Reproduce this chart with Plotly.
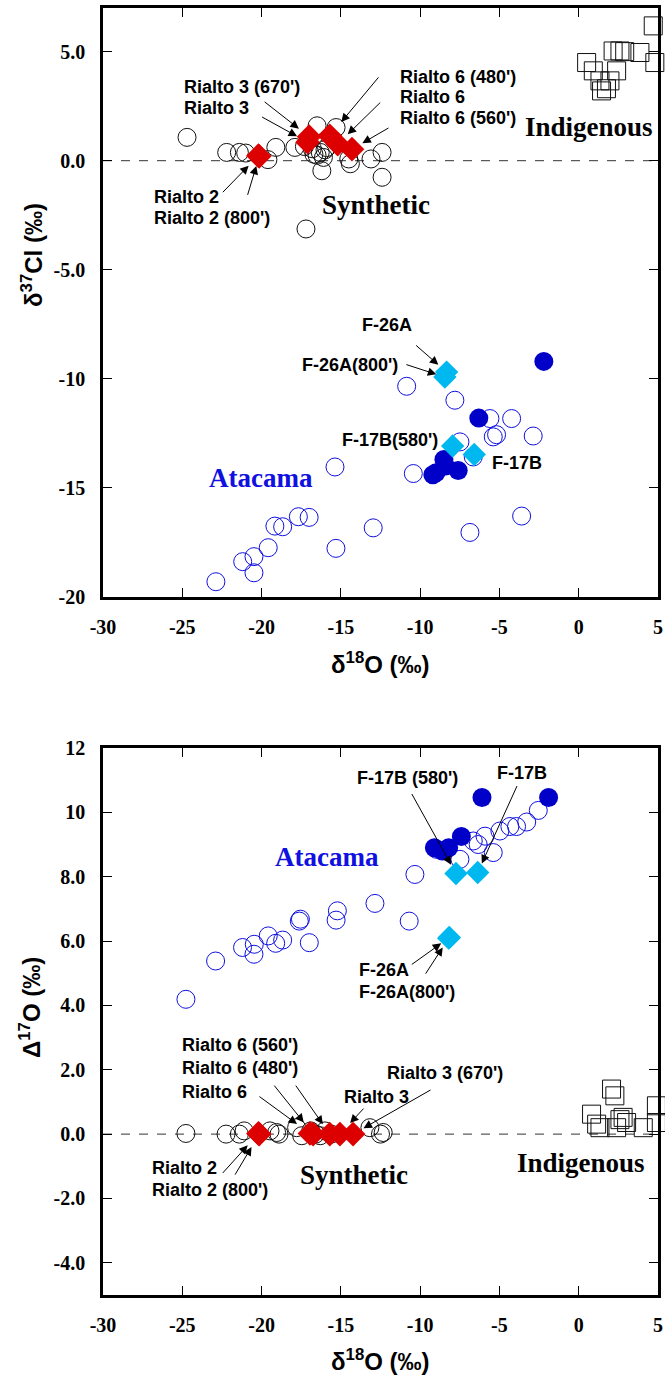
import plotly.graph_objects as go

# ---------------- DATA ----------------
# Top panel: d18O vs d37Cl
syn_top_x = [-24.7, -22.2, -21.4, -21.0, -19.1, -19.6, -17.9, -17.3, -16.5, -16.8, -16.3, -16.5,
             -16.0, -16.2, -15.3, -14.5, -13.1, -12.4, -12.4, -17.2, -16.7, -16.1, -15.9, -14.4]
syn_top_y = [1.07, 0.38, 0.38, 0.35, 0.61, 0.05, 0.61, 0.65, 1.6, 0.55, 0.38, 0.25,
             0.5, -0.46, 1.52, 0.08, 0.08, 0.38, -0.76, -3.13, 0.3, 0.15, 0.6, -0.14]

ind_top_x = [4.7, 0.5, 0.92, 1.34, 1.44, 1.75, 2.17, 2.6, 2.39, 3.86, 4.8, 2.9, 1.97]
ind_top_y = [6.18, 4.5, 4.12, 3.66, 3.2, 3.3, 5.03, 5.03, 4.12, 4.96, 4.5, 5.0, 3.66]

ata_top_x = [-10.85, -15.37, -10.43, -19.16, -18.67, -17.68, -17.0, -12.96, -19.58, -15.31, -21.19,
             -20.48, -20.48, -22.88, -7.81, -5.6, -4.23, -5.39, -5.18, -2.87, -7.49, -6.65, -6.86, -3.6]
ata_top_y = [-10.34, -14.04, -14.34, -16.75, -16.78, -16.32, -16.35, -16.83, -17.74, -17.77, -18.38,
             -18.15, -18.89, -19.3, -10.98, -11.82, -11.82, -12.66, -12.56, -12.62, -12.89, -13.58, -17.04, -16.29]

nav_top_x = [-2.2, -6.3, -8.5, -9.2, -7.6, -8.4, -9.0]
nav_top_y = [-9.2, -11.8, -13.7, -14.4, -14.2, -14.0, -14.3]

well_top_names = ["F-26A", "F-26A(800')", "F-17B(580')", "F-17B"]
well_top_x = [-8.33, -8.44, -7.95, -6.59]
well_top_y = [-9.69, -9.92, -13.08, -13.47]

ria_top_names = ["Rialto 2", "Rialto 2 (800')", "Rialto 3 (670')", "Rialto 3",
                 "Rialto 6 (480')", "Rialto 6", "Rialto 6 (560')"]
ria_top_x = [-20.2, -20.15, -17.0, -17.1, -15.7, -15.2, -14.3]
ria_top_y = [0.23, 0.2, 1.1, 0.85, 1.14, 0.76, 0.53]

# Bottom panel: d18O vs D17O
syn_bot_x = [-24.77, -22.24, -21.4, -21.1, -19.05, -19.47, -18.9, -17.79, -17.47, -16.9, -16.6,
             -16.3, -16.0, -15.6, -13.17, -12.33, -12.5]
syn_bot_y = [0.02, 0.0, 0.0, 0.1, 0.05, 0.1, 0.0, 0.2, -0.05, 0.1, 0.0,
             -0.05, 0.1, 0.0, 0.2, 0.05, 0.0]

ind_bot_x = [2.07, 2.28, 0.81, 1.13, 2.8, 2.6, 3.02, 4.07, 4.9, 4.9, 2.39, 1.34]
ind_bot_y = [1.4, 1.19, 0.62, 0.31, 0.52, 0.45, 0.36, 0.2, 0.88, 0.36, 0.2, 0.2]

ata_bot_x = [-24.77, -22.9, -21.2, -20.46, -20.48, -19.58, -19.11, -18.67, -17.62, -17.55, -16.99,
             -15.22, -15.3, -12.85, -10.33, -10.69, -8.96, -7.49, -6.65, -5.91, -5.39, -4.97,
             -4.34, -3.92, -3.28, -2.55, -6.34]
ata_bot_y = [4.19, 5.38, 5.8, 5.9, 5.59, 6.16, 5.93, 6.03, 6.62, 6.68, 5.95,
             6.94, 6.65, 7.17, 8.07, 6.62, 8.85, 8.54, 9.11, 9.26, 8.75, 9.42,
             9.56, 9.56, 9.7, 10.06, 9.0]

nav_bot_x = [-6.1, -1.9, -7.4, -9.1, -8.2, -8.6]
nav_bot_y = [10.46, 10.46, 9.25, 8.9, 8.9, 8.8]

well_bot_names = ["F-26A", "F-26A(800')", "F-17B (580')", "F-17B"]
well_bot_x = [-8.16, -8.2, -7.74, -6.37]
well_bot_y = [6.11, 6.09, 8.1, 8.13]

ria_bot_names = ["Rialto 2", "Rialto 2 (800')", "Rialto 6", "Rialto 6 (480')",
                 "Rialto 6 (560')", "Rialto 3", "Rialto 3 (670')"]
ria_bot_x = [-20.2, -20.15, -16.95, -16.75, -15.7, -15.06, -14.23]
ria_bot_y = [0.02, 0.0, 0.02, 0.0, 0.0, 0.0, 0.0]

x_ticks = [-30, -25, -20, -15, -10, -5, 0, 5]
x_ticktext = ["-30", "-25", "-20", "-15", "-10", "-5", "0", "5"]
y1_ticks = [-20, -15, -10, -5, 0, 5]
y1_ticktext = ["-20", "-15", "-10", "-5.0", "0.0", "5.0"]
y2_ticks = [-4, -2, 0, 2, 4, 6, 8, 10, 12]
y2_ticktext = ["-4.0", "-2.0", "0.0", "2.0", "4.0", "6.0", "8.0", "10", "12"]

# ---------------- STYLE / LAYOUT ----------------
W, H = 665, 1382
L, R, T, B = 103, 7, 8, 87
PW, PH = W - L - R, H - T - B


def pp(xp, yp):
    return (xp - L) / PW, (H - B - yp) / PH


top_dom = [pp(0, 597)[1], 1.0]
bot_dom = [0.0, pp(0, 748)[1]]

BLACK = "#111111"
BLUE = "#1010e0"
NAVY = "#0000c8"
CYAN = "#00b8f0"
RED = "#dd0000"

fig = go.Figure()


def add_panel(xa, ya, sx, sy, ix, iy, ax_, ay_, nx, ny, wx, wy, rx, ry):
    common = dict(xaxis=xa, yaxis=ya, mode="markers", showlegend=False, cliponaxis=False,
                  hoverinfo="x+y")
    fig.add_trace(go.Scatter(x=sx, y=sy, marker=dict(symbol="circle-open", size=18, color=BLACK,
                                                       line=dict(width=1)), **common))
    fig.add_trace(go.Scatter(x=ix, y=iy, marker=dict(symbol="square-open", size=18, color=BLACK,
                                                       line=dict(width=1)), **common))
    fig.add_trace(go.Scatter(x=ax_, y=ay_, marker=dict(symbol="circle-open", size=18, color=BLUE,
                                                         line=dict(width=1)), **common))
    fig.add_trace(go.Scatter(x=nx, y=ny, marker=dict(symbol="circle", size=19, color=NAVY,
                                                       line=dict(width=0)), **common))
    fig.add_trace(go.Scatter(x=wx, y=wy, marker=dict(symbol="diamond", size=18, color=CYAN,
                                                       line=dict(width=0)), **common))
    fig.add_trace(go.Scatter(x=rx, y=ry, marker=dict(symbol="diamond", size=19, color=RED,
                                                       line=dict(width=0)), **common))


add_panel("x", "y", syn_top_x, syn_top_y, ind_top_x, ind_top_y, ata_top_x, ata_top_y,
          nav_top_x, nav_top_y, well_top_x, well_top_y, ria_top_x, ria_top_y)
add_panel("x2", "y2", syn_bot_x, syn_bot_y, ind_bot_x, ind_bot_y, ata_bot_x, ata_bot_y,
          nav_bot_x, nav_bot_y, well_bot_x, well_bot_y, ria_bot_x, ria_bot_y)

# zero reference lines
for yr, xr in (("y", "x"), ("y2", "x2")):
    fig.add_shape(type="line", xref=xr + " domain", yref=yr, x0=0, x1=1, y0=0, y1=0,
                  line=dict(color="#333333", width=1, dash="dash"), layer="below")

axis_font = dict(family="Liberation Serif", size=20, color="black", weight="bold")
ax_common = dict(showgrid=False, zeroline=False, showline=True, linecolor="black", linewidth=2.5,
                 mirror="allticks", ticks="inside", ticklen=9, tickwidth=1, tickcolor="black",
                 tickfont=axis_font, automargin=False)

fig.update_layout(
    template="none",
    width=W, height=H, margin=dict(l=L, r=R, t=T, b=B, autoexpand=False),
    paper_bgcolor="white", plot_bgcolor="white",
    xaxis=dict(domain=[0, 1], anchor="y", range=[-30, 5], tickvals=x_ticks, ticktext=x_ticktext,
               ticklabelstandoff=10, **ax_common),
    yaxis=dict(domain=top_dom, anchor="x", range=[-20, 7], tickvals=y1_ticks, ticktext=y1_ticktext,
               ticklabelstandoff=11, **ax_common),
    xaxis2=dict(domain=[0, 1], anchor="y2", range=[-30, 5], tickvals=x_ticks, ticktext=x_ticktext,
                ticklabelstandoff=10, **ax_common),
    yaxis2=dict(domain=bot_dom, anchor="x2", range=[-5, 12], tickvals=y2_ticks, ticktext=y2_ticktext,
                ticklabelstandoff=11, **ax_common),
)

ann = []
LAB = dict(family="Liberation Sans", size=18, color="black")
BIG = dict(family="Liberation Serif", size=27, color="black")
BIGB = dict(family="Liberation Serif", size=27, color=BLUE)
TITLE = dict(family="Liberation Sans", size=24, color="black")


def text(t, xp, yp, font, anchor="left"):
    xf, yf = pp(xp, yp)
    ann.append(dict(text="<b>%s</b>" % t, x=xf, y=yf, xref="paper", yref="paper",
                    xanchor=anchor, yanchor="middle", showarrow=False, font=font))


# labels top panel
text("Rialto 3 (670')", 182, 87, LAB)
text("Rialto 3", 182, 108, LAB)
text("Rialto 6 (480')", 398, 77, LAB)
text("Rialto 6", 398, 97, LAB)
text("Rialto 6 (560')", 398, 118, LAB)
text("Indigenous", 523, 127, BIG)
text("Synthetic", 320, 205, BIG)
text("Rialto 2", 152, 197, LAB)
text("Rialto 2 (800')", 152, 218, LAB)
text("F-26A", 360, 325, LAB)
text("F-26A(800')", 300, 365, LAB)
text("F-17B(580')", 340, 440, LAB)
text("F-17B", 490, 463, LAB)
text("Atacama", 207, 478, BIGB)
# labels bottom panel
text("F-17B (580')", 355, 778, LAB)
text("F-17B", 495, 773, LAB)
text("Atacama", 273, 857, BIGB)
text("F-26A", 357, 970, LAB)
text("F-26A(800')", 357, 992, LAB)
text("Rialto 6 (560')", 180, 1045, LAB)
text("Rialto 6 (480')", 180, 1068, LAB)
text("Rialto 6", 180, 1092, LAB)
text("Rialto 3", 342, 1097, LAB)
text("Rialto 3 (670')", 385, 1073, LAB)
text("Rialto 2", 150, 1168, LAB)
text("Rialto 2 (800')", 150, 1190, LAB)
text("Synthetic", 298, 1175, BIG)
text("Indigenous", 515, 1163, BIG)

# axis titles
for t, xp, yp, ang in [("δ<sup>37</sup>Cl (‰)", 32, 255, -90),
                       ("Δ<sup>17</sup>O (‰)", 30, 1008, -90),
                       ("δ<sup>18</sup>O (‰)", 380, 663, 0),
                       ("δ<sup>18</sup>O (‰)", 380, 1360, 0)]:
    xf, yf = pp(xp, yp)
    ann.append(dict(text="<b>%s</b>" % t, x=xf, y=yf, xref="paper", yref="paper", xanchor="center",
                    yanchor="middle", showarrow=False, font=TITLE, textangle=ang))

# arrows: tail offset in px from target point, standoff in px
ARW = dict(showarrow=True, arrowhead=2, arrowsize=1.7, arrowwidth=1, arrowcolor="black", text="")


def arrow(xr, yr, names, xs, ys, name, dx, dy, so):
    i = names.index(name)
    ann.append(dict(x=xs[i], y=ys[i], xref=xr, yref=yr, ax=dx, ay=dy, standoff=so, **ARW))


arrow("x", "y", ria_top_names, ria_top_x, ria_top_y, "Rialto 3 (670')", -46, -36, 13)
arrow("x", "y", ria_top_names, ria_top_x, ria_top_y, "Rialto 3", -47, -26, 12)
arrow("x", "y", ria_top_names, ria_top_x, ria_top_y, "Rialto 6 (480')", 50, -60, 18)
arrow("x", "y", ria_top_names, ria_top_x, ria_top_y, "Rialto 6", 44, -43, 14)
arrow("x", "y", ria_top_names, ria_top_x, ria_top_y, "Rialto 6 (560')", 38, -22, 12)
arrow("x", "y", ria_top_names, ria_top_x, ria_top_y, "Rialto 2", -37, 38, 14)
arrow("x", "y", ria_top_names, ria_top_x, ria_top_y, "Rialto 2 (800')", -12, 40, 10)
arrow("x", "y", well_top_names, well_top_x, well_top_y, "F-26A", -32, -28, 11)
arrow("x", "y", well_top_names, well_top_x, well_top_y, "F-26A(800')", -40, -13, 9)

arrow("x2", "y2", ria_bot_names, ria_bot_x, ria_bot_y, "Rialto 2", -37, 41, 16)
arrow("x2", "y2", ria_bot_names, ria_bot_x, ria_bot_y, "Rialto 2 (800')", -25, 42, 15)
arrow("x2", "y2", ria_bot_names, ria_bot_x, ria_bot_y, "Rialto 6", -52, -38, 16)
arrow("x2", "y2", ria_bot_names, ria_bot_x, ria_bot_y, "Rialto 6 (480')", -40, -50, 15)
arrow("x2", "y2", ria_bot_names, ria_bot_x, ria_bot_y, "Rialto 6 (560')", -35, -50, 12)
arrow("x2", "y2", ria_bot_names, ria_bot_x, ria_bot_y, "Rialto 3", 25, -27, 15)
arrow("x2", "y2", ria_bot_names, ria_bot_x, ria_bot_y, "Rialto 3 (670')", 79, -45, 12)
arrow("x2", "y2", well_bot_names, well_bot_x, well_bot_y, "F-17B (580')", -45, -81, 10)
arrow("x2", "y2", well_bot_names, well_bot_x, well_bot_y, "F-17B", 40, -88, 10)
arrow("x2", "y2", well_bot_names, well_bot_x, well_bot_y, "F-26A", -39, 28, 10)
arrow("x2", "y2", well_bot_names, well_bot_x, well_bot_y, "F-26A(800')", -24, 37, 11)

fig.update_layout(annotations=ann)
fig.write_html("out.html")
